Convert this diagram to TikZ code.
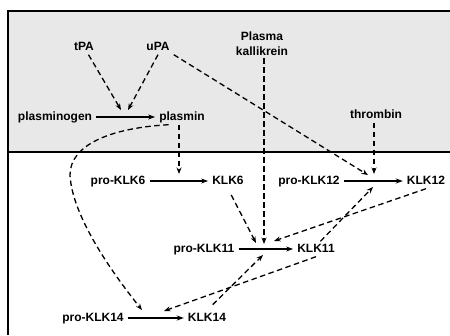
\documentclass[tikz,border=0pt]{standalone}
\usepackage{fontspec}
\setmainfont{Liberation Sans}
\usetikzlibrary{arrows.meta}
\definecolor{panelgrey}{RGB}{232,232,232}
\tikzset{
  lbl/.style={font=\fontsize{12}{14}\selectfont\bfseries, text height=8.5pt, text depth=2.5pt, inner xsep=4pt, inner ysep=2pt},
  conv/.style={line width=1.2pt, -{Stealth[length=7pt,width=5pt]}},
  act/.style={line width=1.3pt, dash pattern=on 5.5pt off 3.5pt, -{Stealth[length=6.5pt,width=5pt]}},
  frame/.style={line width=1.8pt}
}
\begin{document}
\begin{tikzpicture}[x=1pt,y=-1pt]
\useasboundingbox (0,0) rectangle (450,335);
\fill[panelgrey] (8,11) rectangle (450,152);
\draw[frame] (450,11) -- (8,11) -- (8,335);
\draw[frame] (8,152) -- (450,152);

% nodes
\node[lbl] (tPA) at (84,47) {tPA};
\node[lbl] (uPA) at (158,47) {uPA};
\node[font=\fontsize{12}{15}\selectfont\bfseries, align=center, inner sep=2pt] (pk) at (262,44) {Plasma\\kallikrein};
\node[lbl] (thrombin) at (376,115) {thrombin};
\node[lbl] (plasminogen) at (55,117) {plasminogen};
\node[lbl] (plasmin) at (182,117) {plasmin};
\node[lbl] (proKLK6) at (118,181) {pro-KLK6};
\node[lbl] (KLK6) at (228,181) {KLK6};
\node[lbl] (proKLK12) at (309,181) {pro-KLK12};
\node[lbl] (KLK12) at (426,181) {KLK12};
\node[lbl] (proKLK11) at (204,249) {pro-KLK11};
\node[lbl] (KLK11) at (316,249) {KLK11};
\node[lbl] (proKLK14) at (93,318) {pro-KLK14};
\node[lbl] (KLK14) at (207,318) {KLK14};

% conversion arrows
\draw[conv] (plasminogen) -- (plasmin);
\draw[conv] (proKLK6) -- (KLK6);
\draw[conv] (proKLK12) -- (KLK12);
\draw[conv] (proKLK11) -- (KLK11);
\draw[conv] (proKLK14) -- (KLK14);

% target points on conversion arrows
\coordinate (c1) at (121,110);
\coordinate (c2) at (128,110);
\coordinate (c3) at (368,175);
\coordinate (c4) at (179,174);
\coordinate (c5) at (264,244);
\coordinate (c6) at (374,174);
\coordinate (c7) at (256,243);
\coordinate (c8) at (274,241);
\coordinate (c9) at (373,187);
\coordinate (c10) at (164,311);
\coordinate (c11) at (263,255);
\coordinate (c12) at (142,310);

% activation arrows
\draw[act] (tPA) -- (c1);
\draw[act] (uPA.south) -- (c2);
\draw[act] (uPA.south east) -- (c3);
\draw[act] (plasmin.south -| c4) -- (c4);
\draw[act] (pk.south -| c5) -- (c5);
\draw[act] (thrombin.south -| c6) -- (c6);
\draw[act, shorten <=7pt] (KLK6.south) -- (c7);
\draw[act] (KLK12.south) -- (c8);
\draw[act] (KLK11.60) -- (c9);
\draw[act] (KLK11.south) -- (c10);
\draw[act, shorten <=8pt] (KLK14.north) -- (c11);
\draw[act] (plasmin.210) .. controls (110,128) and (70,145) .. (70,175)
           .. controls (72,215) and (110,270) .. (c12);
\end{tikzpicture}
\end{document}
